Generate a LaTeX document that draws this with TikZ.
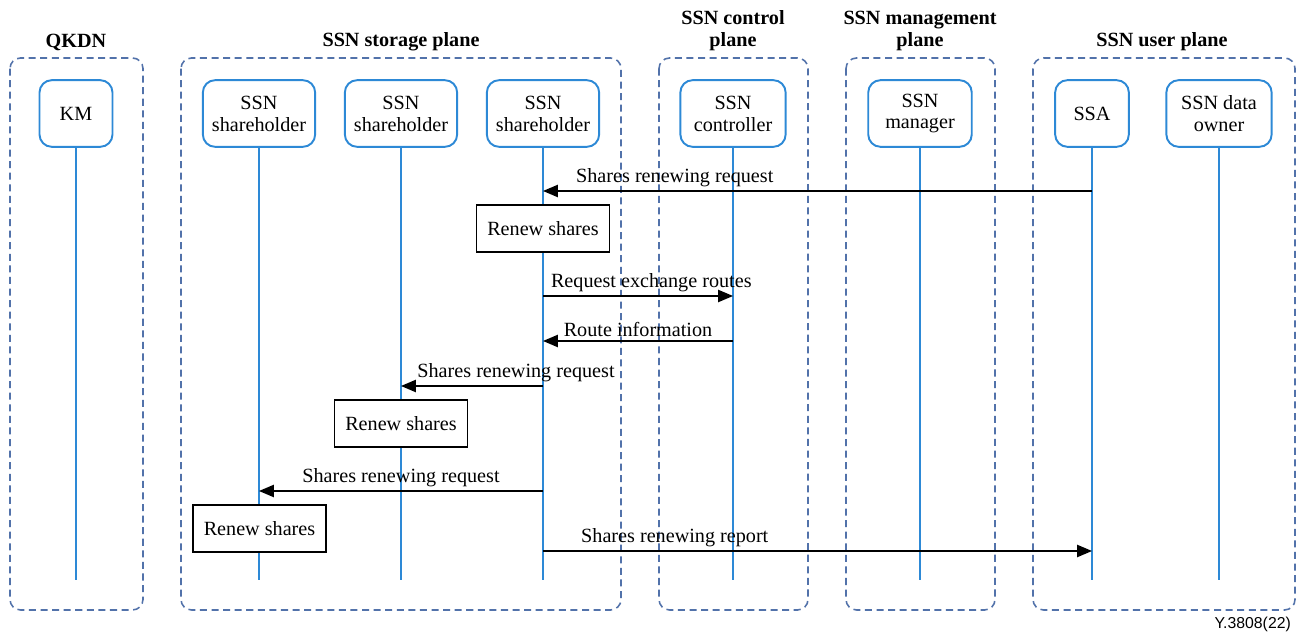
\documentclass[tikz,border=0pt]{standalone}
\usepackage{fontspec}
\setmainfont{Liberation Serif}
\setsansfont{Liberation Sans}
\usetikzlibrary{arrows.meta}
\definecolor{lifeblue}{RGB}{45,137,214}
\definecolor{planeblue}{RGB}{82,114,170}
\begin{document}
\begin{tikzpicture}[x=0.57pt, y=-0.57pt, >={Triangle[length=8.5pt,width=7pt]},
    font=\fontsize{11.5}{12.5}\selectfont,
    plane/.style={draw=planeblue, line width=0.9pt, dash pattern=on 4pt off 2.6pt, rounded corners=6pt},
    title/.style={font=\fontsize{11.5}{12.5}\selectfont\bfseries, align=center},
    actor/.style={draw=lifeblue, line width=1.1pt, rounded corners=7pt, minimum height=38pt, minimum width=60pt, align=center, fill=white},
    life/.style={draw=lifeblue, line width=0.9pt},
    msg/.style={->, line width=0.8pt},
    lbl/.style={above, inner sep=2pt},
    act/.style={draw, line width=0.8pt, minimum width=76pt, minimum height=27pt, fill=white}]
    \useasboundingbox (0,0) rectangle (1305,634);

    % planes
    \draw[plane] (10,58) rectangle (143,610);
    \draw[plane] (181,58) rectangle (621,610);
    \draw[plane] (659,58) rectangle (808,610);
    \draw[plane] (846,58) rectangle (995,610);
    \draw[plane] (1033,58) rectangle (1295,610);
    \node[title] (tqkdn) at (76,42) {QKDN};
    \node[title] (tstore) at (401,42) {SSN storage plane};
    \node[title] (tctrl) at (733,31) {SSN control\\plane};
    \node[title] (tmgmt) at (920,31) {SSN management\\plane};
    \node[title] (tuser) at (1162,42) {SSN user plane};

    % actors
    \node[actor,minimum width=41.6pt] (km) at (76,113.5) {KM};
    \node[actor,minimum width=64pt] (sh1) at (259,113.5) {SSN\\shareholder};
    \node[actor,minimum width=64pt] (sh2) at (401,113.5) {SSN\\shareholder};
    \node[actor,minimum width=64pt] (sh3) at (543,113.5) {SSN\\shareholder};
    \node[actor] (ctrl) at (733,113.5) {SSN\\controller};
    \node[actor,minimum width=59pt] (mgr) at (920,113.5) {SSN\\manager};
    \node[actor,minimum width=42pt] (ssa) at (1092,113.5) {SSA};
    \node[actor] (owner) at (1219,113.5) {SSN data\\owner};

    % lifelines
    \coordinate (bottom) at (0,580);
    \foreach \n in {km,sh1,sh2,sh3,ctrl,mgr,ssa,owner}
        \draw[life] (\n) -- (\n |- bottom);

    % message rows
    \coordinate (r1) at (0,191);
    \coordinate (r2) at (0,296);
    \coordinate (r3) at (0,341);
    \coordinate (r4) at (0,386);
    \coordinate (r5) at (0,491);
    \coordinate (r6) at (0,551);

    \draw[msg] (ssa |- r1) -- node[lbl,pos=0.76] {Shares renewing request} (sh3 |- r1);
    \node[act] (renew1) at (543,228.5) {Renew shares};
    \draw[msg] (sh3 |- r2) -- node[lbl,pos=0.57] {Request exchange routes} (ctrl |- r2);
    \draw[msg] (ctrl |- r3) -- node[lbl,pos=0.5] {Route information} (sh3 |- r3);
    \draw[msg] (sh3 |- r4) -- node[lbl,pos=0.19] {Shares renewing request} (sh2 |- r4);
    \node[act] (renew2) at (401,423.5) {Renew shares};
    \draw[msg] (sh3 |- r5) -- node[lbl,pos=0.5] {Shares renewing request} (sh1 |- r5);
    \node[act] (renew3) at (259.5,528.5) {Renew shares};
    \draw[msg] (sh3 |- r6) -- node[lbl,pos=0.24] {Shares renewing report} (ssa |- r6);

    \node[font=\sffamily\fontsize{9}{10}\selectfont, anchor=east] (ref) at (1297,624) {Y.3808(22)};
\end{tikzpicture}
\end{document}
